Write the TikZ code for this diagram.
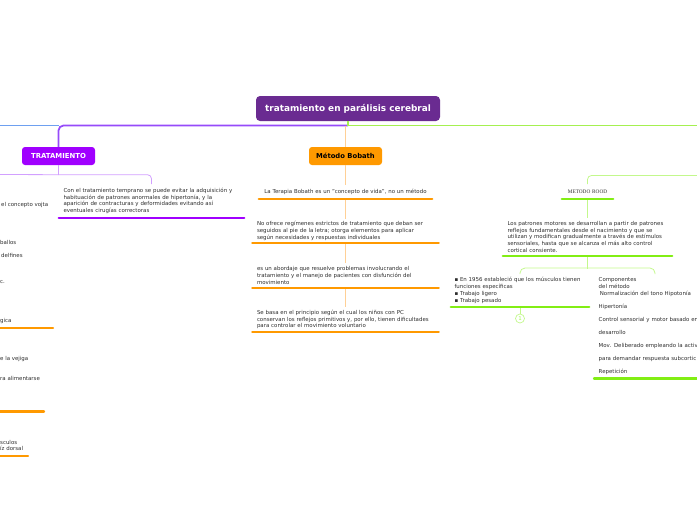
\documentclass[tikz,border=0pt]{standalone}
\usepackage{fontspec}
\setmainfont{DejaVu Sans}
\newfontfamily\roodfont{Liberation Serif}
\usepackage{tikz}
\usetikzlibrary{positioning,calc}
\definecolor{rootpurple}{RGB}{106,43,145}
\definecolor{tratviolet}{RGB}{160,0,255}
\definecolor{tratpurple}{RGB}{150,75,250}
\definecolor{tratlight}{RGB}{210,160,255}
\definecolor{bobathorange}{RGB}{255,153,0}
\definecolor{bobathlight}{RGB}{255,208,150}
\definecolor{roodgreen}{RGB}{130,238,20}
\definecolor{roodmain}{RGB}{165,240,80}
\definecolor{roodlight}{RGB}{195,248,140}
\definecolor{leftblue}{RGB}{110,160,240}
\definecolor{inktext}{RGB}{45,45,45}

\begin{document}
\begin{tikzpicture}[x=1pt, y=-1pt,
    every node/.style={font=\fontsize{5.45}{6.8}\selectfont, text=inktext, inner sep=0pt},
    topic/.style={rounded corners=3pt, minimum height=18pt, font=\fontsize{6.8}{8}\selectfont\bfseries},
    leaf/.style={anchor=north, align=left, inner xsep=4.5pt},
    frag/.style={anchor=base west},
    uline/.style={line width=2.4pt, line cap=round},
    link/.style={line width=0.8pt},
    mainlink/.style={line width=1.8pt}]
    \useasboundingbox (0,0) rectangle (697,520);
    \clip (0,0) rectangle (697,520);

    % Central topic and main branches
    \node[fill=rootpurple, text=white, rounded corners=4pt, minimum width=184pt, minimum height=25pt,
          font=\fontsize{8.9}{10}\selectfont\bfseries] (root) at (348,108.5) {tratamiento en parálisis cerebral};
    \node[topic, fill=tratviolet, text=white, minimum width=73pt, font=\fontsize{6.9}{8}\selectfont\bfseries] (trat) at (58.5,156) {TRATAMIENTO};
    \node[topic, fill=bobathorange, text=black, minimum width=73pt] (bobath) at (345.5,156) {Método Bobath};

    \coordinate (hub) at (348,125.5);
    \coordinate (farleft) at (0,125.5);
    \coordinate (farright) at (697,125.5);
    \draw[mainlink, leftblue] (trat.north |- hub) -- (farleft);
    \draw[mainlink, tratpurple, rounded corners=5pt] (hub) -| (trat.north);
    \draw[mainlink, roodmain] (root.south) -- (hub) -- (farright);
    \draw[link, bobathlight] (bobath.north |- hub) -- (bobath.north);

    % Tratamiento
    \node[leaf, text width=176pt, minimum height=33.5pt] (t1) at (151.5,184) {
        Con el tratamiento temprano se puede evitar la adquisición y\\
        habituación de patrones anormales de hipertonía, y la\\
        aparición de contracturas y deformidades evitando así\\
        eventuales cirugías correctoras};
    \coordinate (tratleft) at (0,174.5);
    \draw[link, tratlight] (trat.south) -- ++(0,9.5) coordinate (tj) -- (tratleft);
    \draw[link, tratlight, rounded corners=4pt] (tj) -| (t1.north);
    \draw[uline, tratviolet] (t1.south west) -- (t1.south east);

    % Left side (cut off by the edge)
    \node[frag] (lf1) at (1,206.5) {el concepto vojta};
    \node[frag] (lf2) at (0,244.5) {ballos};
    \node[frag] (lf3) at (1,257.5) {delfines};
    \node[frag] (lf4) at (0,283.5) {c.};
    \node[frag] (lf5) at (0,322.5) {gica};
    \node[frag] (lf6) at (0,360.5) {e la vejiga};
    \node[frag] (lf7) at (0,380.5) {ra alimentarse};
    \node[frag] (lf8) at (0,444) {sculos};
    \node[frag] (lf9) at (0,450.8) {íz dorsal};
    \draw[uline, bobathorange] (lf5.west |- 0,328) -- (53,328);
    \draw[uline, bobathorange] (lf7.west |- 0,411.5) -- (44,411.5);
    \draw[uline, bobathorange] (lf9.west |- 0,456) -- (28,456);

    % Metodo Bobath
    \node[leaf, align=center, text width=164pt, minimum height=13.5pt] (b1) at (345.5,185) {La Terapia Bobath es un "concepto de vida", no un método};
    \node[leaf, text width=177pt, minimum height=23.5pt] (b2) at (345.5,219) {
        No ofrece regímenes estrictos de tratamiento que deban ser\\
        seguidos al pie de la letra; otorga elementos para aplicar\\
        según necesidades y respuestas individuales};
    \node[leaf, text width=177pt, minimum height=24.5pt] (b3) at (345.5,263) {
        es un abordaje que resuelve problemas involucrando el\\
        tratamiento y el manejo de pacientes con disfunción del\\
        movimiento};
    \node[leaf, text width=177pt, minimum height=24.5pt] (b4) at (345.5,307) {
        Se basa en el principio según el cual los niños con PC\\
        conservan los reflejos primitivos y, por ello, tienen dificultades\\
        para controlar el movimiento voluntario};
    \draw[link, bobathlight] (bobath.south) -- (b1.north);
    \draw[link, bobathlight] (b1.south) -- (b2.north);
    \draw[link, bobathlight] (b2.south) -- (b3.north);
    \draw[link, bobathlight] (b3.south) -- (b4.north);
    \foreach \n in {b1,b2,b3,b4}
        \draw[uline, bobathorange] (\n.south west) -- (\n.south east);

    % Metodo Rood
    \coordinate (roodin) at (697,175.5);
    \node[leaf, align=center, text width=42pt, minimum height=14.5pt,
          font=\roodfont\fontsize{5.3}{6}\selectfont] (rood) at (587.5,184) {METODO ROOD};
    \node[leaf, text width=160pt, minimum height=37.5pt] (r1) at (587.5,218) {
        Los patrones motores se desarrollan a partir de patrones\\
        reflejos fundamentales desde el nacimiento y que se\\
        utilizan y modifican gradualmente a través de estímulos\\
        sensoriales, hasta que se alcanza el más alto control\\
        cortical consiente.};
    \node[leaf, inner xsep=3.5pt, text width=131pt, minimum height=32.5pt] (r2) at (520,274) {
        ▪ En 1956 estableció que los músculos tienen\\
        funciones específicas\\
        ▪ Trabajo ligero\\
        ▪ Trabajo pesado};
    \node[leaf, anchor=north west, text width=140pt, minimum height=104pt] (r3) at (594,274) {
        Componentes\\
        del método\\
        \hspace*{1.2pt}Normalización del tono Hipotonía\\[6.2pt]
        Hipertonía\\[6.2pt]
        Control sensorial y motor basado en\\[6.2pt]
        desarrollo\\[6.2pt]
        Mov. Deliberado empleando la activ\\[6.2pt]
        para demandar respuesta subcortic\\[6.2pt]
        Repetición};
    \node[circle, draw=roodlight, line width=0.7pt, minimum size=9pt, text=roodgreen!70!white] (fold) at (520,318.5) {1};
    \coordinate (r3top) at ($(r3.north west)+(61,0)$);

    \draw[link, roodlight, rounded corners=4pt] (rood.north) |- (roodin);
    \draw[link, roodlight] (rood.south) -- (r1.north);
    \draw[link, roodlight] (r1.south) -- ++(0,13);
    \draw[link, roodlight, rounded corners=5pt] (r2.north) -- ++(0,-6) -| (r3top);
    \draw[link, roodlight] (r2.south) -- (fold.north);
    \draw[uline, roodgreen] (rood.south west) -- (rood.south east);
    \draw[uline, roodgreen] (r1.south west) -- (r1.south east);
    \draw[uline, roodgreen] (r2.south west) -- (r2.south east);
    \draw[uline, roodgreen] (r3.south west) -- ++(122,0);
\end{tikzpicture}
\end{document}
